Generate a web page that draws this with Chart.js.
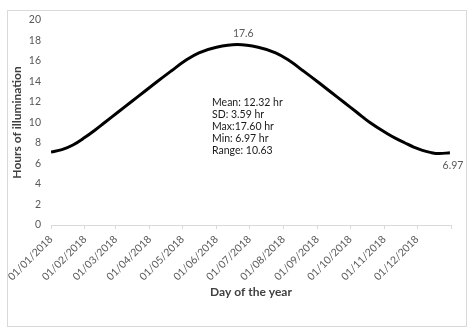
<!DOCTYPE html>
<html>
<head>
<meta charset="utf-8">
<script src="https://cdn.jsdelivr.net/npm/chart.js@4"></script>
<style>
  html, body { margin: 0; padding: 0; background: #fff; }
  #wrap { position: relative; width: 474px; height: 333px; }
</style>
</head>
<body>
<div id="wrap"><canvas id="chart" width="474" height="333"></canvas></div>
<script>
// day of the year (0 = 01/01/2018) and hours of illumination
const dayOfYear = [0, 10, 20, 31, 40, 49, 61, 73, 85, 97, 110, 122, 135, 151, 170, 189, 205, 218, 230, 243, 255, 267, 279, 291, 307, 315, 323, 331, 339, 347, 354, 364];
const hours     = [7.12, 7.35, 7.8, 8.55, 9.25, 10.0, 11.0, 12.0, 13.0, 14.0, 15.05, 16.0, 16.8, 17.35, 17.6, 17.35, 16.8, 16.0, 15.05, 14.0, 13.0, 12.0, 11.0, 10.0, 8.9, 8.42, 8.0, 7.6, 7.28, 7.06, 6.97, 7.05];

// tick positions (first day of each month) and their labels
const monthStartDays = [0, 31, 59, 90, 120, 151, 181, 212, 243, 273, 304, 334, 365];
const monthLabels = ['01/01/2018', '01/02/2018', '01/03/2018', '01/04/2018', '01/05/2018', '01/06/2018',
                     '01/07/2018', '01/08/2018', '01/09/2018', '01/10/2018', '01/11/2018', '01/12/2018'];

const statLines = ['Mean: 12.32 hr', 'SD: 3.59 hr', 'Max:17.60 hr', 'Min: 6.97 hr', 'Range: 10.63'];

const FONT = 'Lato, "Liberation Sans", sans-serif';
const maxIdx = hours.indexOf(Math.max(...hours));
const minIdx = hours.indexOf(Math.min(...hours));

// cadre gris + étiquettes + encadré des statistiques
const extras = {
    id: 'extras',
    beforeDraw(chart) {
        const ctx = chart.ctx;
        ctx.save();
        ctx.strokeStyle = '#d9d9d9';
        ctx.lineWidth = 1;
        ctx.strokeRect(7.5, 10.5, 459, 316);
        ctx.restore();
    },
    afterDatasetsDraw(chart) {
        const ctx = chart.ctx;
        const xs = chart.scales.x, ys = chart.scales.y;
        ctx.save();
        ctx.font = '10.5px ' + FONT;
        ctx.fillStyle = '#595959';
        ctx.textAlign = 'center';
        ctx.textBaseline = 'middle';
        ctx.fillText(hours[maxIdx].toString(), xs.getPixelForValue(dayOfYear[maxIdx]) + 6, ys.getPixelForValue(hours[maxIdx]) - 11);
        ctx.fillText(hours[minIdx].toString(), xs.getPixelForValue(dayOfYear[minIdx]) + 14, ys.getPixelForValue(hours[minIdx]) + 12);

        ctx.fillStyle = '#1a1a1a';
        ctx.textAlign = 'left';
        ctx.font = '10.5px ' + FONT;
        statLines.forEach((t, i) => {
            ctx.fillText(t, chart.chartArea.left + 161, 103 + i * 12);
        });
        ctx.restore();
    }
};

new Chart(document.getElementById('chart'), {
    type: 'line',
    data: {
        datasets: [{
            data: dayOfYear.map((d, i) => ({ x: d, y: hours[i] })),
            borderColor: '#000000',
            borderWidth: 3,
            pointRadius: 0,
            fill: false,
            tension: 0.4
        }]
    },
    options: {
        responsive: false,
        animation: false,
        layout: { padding: { top: 20, right: 23, bottom: 30, left: 6 } },
        plugins: {
            legend: { display: false },
            tooltip: { enabled: false }
        },
        scales: {
            x: {
                type: 'linear',
                min: 0,
                max: 365,
                afterBuildTicks: (scale) => {
                    scale.ticks = monthStartDays.map(v => ({ value: v }));
                },
                afterFit: (scale) => { scale.height = 78; },
                grid: {
                    drawOnChartArea: false,
                    color: '#d9d9d9',
                    tickLength: 4
                },
                border: { color: '#d9d9d9' },
                ticks: {
                    autoSkip: false,
                    minRotation: 45,
                    maxRotation: 45,
                    padding: 4,
                    color: '#595959',
                    font: { family: FONT, size: 10.5 },
                    callback: (value, index) => monthLabels[index] || ''
                },
                title: {
                    display: true,
                    text: 'Day of the year',
                    color: '#404040',
                    font: { family: FONT, size: 12, weight: 'bold' }
                }
            },
            y: {
                min: 0,
                max: 20,
                afterFit: (scale) => { scale.width = 45; },
                grid: { display: false, drawTicks: false },
                border: { display: false },
                ticks: {
                    stepSize: 2,
                    padding: 10,
                    color: '#595959',
                    font: { family: FONT, size: 10.5 }
                },
                title: {
                    display: true,
                    text: 'Hours of illumination',
                    color: '#404040',
                    font: { family: FONT, size: 12, weight: 'bold' }
                }
            }
        }
    },
    plugins: [extras]
});
</script>
</body>
</html>
